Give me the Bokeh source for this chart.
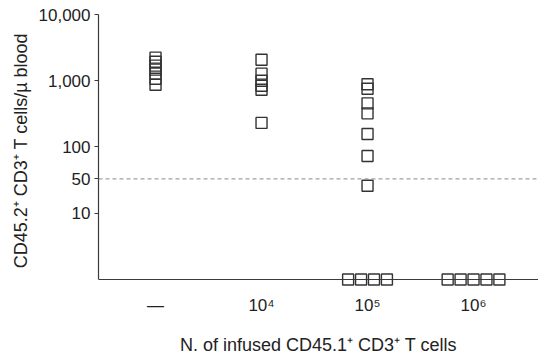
from bokeh.plotting import figure
from bokeh.models import Range1d, FixedTicker, Span, ColumnDataSource
from bokeh.embed import file_html
from bokeh.resources import INLINE

# ---- data ----
categories = ["\u2014", "10\u2074", "10\u2075", "10\u2076"]
group_none = [2230, 1940, 1690, 1470, 1280, 1070, 870]
group_1e4 = [2080, 1280, 1000, 840, 730, 231]
group_1e5 = [885, 757, 456, 322, 157, 73, 26, 0, 0, 0, 0]
group_1e6 = [0, 0, 0, 0, 0]
y_ticks = [10, 100, 1000, 10000]
y_tick_labels = ["10", "100", "1,000", "10,000"]
threshold_label = "50"
threshold_level = 33  # where the dashed line sits on the axis scale in the picture
x_title = "N. of infused CD45.1\u207a CD3\u207a T cells"
y_title = "CD45.2\u207a CD3\u207a T cells/\u00b5 blood"

groups = [group_none, group_1e4, group_1e5, group_1e6]

FONT = "Liberation Sans"
AX = "#3a3a3a"
TXT = "#222222"

floor = 1.0          # zero counts are drawn on the baseline
y_low = 0.784        # a little room under the baseline so markers are not clipped
x_lo, x_hi = 0.462, 4.613
zero_step = 0.122    # horizontal spacing of stacked zero markers (data units)
xs, ys = [], []
for i, vals in enumerate(groups):
    pos = i + 1
    zeros = [v for v in vals if v == 0]
    nz = [v for v in vals if v != 0]
    for v in nz:
        xs.append(pos)
        ys.append(v)
    n = len(zeros)
    for k in range(n):
        xs.append(pos + (k - (n - 1) / 2) * zero_step)
        ys.append(floor)

src = ColumnDataSource(dict(x=xs, y=ys))

p = figure(width=538, height=357, y_axis_type="log",
           x_range=Range1d(x_lo, x_hi), y_range=Range1d(y_low, 10000),
           output_backend="svg", toolbar_location=None,
           min_border_left=98, min_border_right=0, min_border_top=14, min_border_bottom=71)
p.outline_line_color = None
p.grid.visible = False
p.background_fill_color = "white"

# baseline (x-axis line) at the floor
p.add_layout(Span(location=floor, dimension="width", line_color=AX, line_width=1.2))

p.add_layout(Span(location=threshold_level, dimension="width", line_color="#8a8a8a",
                  line_dash="4 3", line_width=1))

p.scatter("x", "y", source=src, marker="square", size=11, fill_color=None,
          line_color="#333333", line_width=1.4)

# y axis
all_ticks = y_ticks + [threshold_level]
all_labels = y_tick_labels + [threshold_label]
ya = p.yaxis[0]
ya.bounds = (floor, 10000)
ya.ticker = FixedTicker(ticks=all_ticks, minor_ticks=[])
ya.major_label_overrides = {t: l for t, l in zip(all_ticks, all_labels)}
ya.axis_line_color = AX
ya.axis_line_width = 1.2
ya.major_tick_line_color = AX
ya.major_tick_out = 4
ya.major_tick_in = 0
ya.minor_tick_line_color = None
ya.major_label_text_font = FONT
ya.major_label_text_font_size = "17px"
ya.major_label_text_color = TXT
ya.major_label_standoff = 4
ya.axis_label = y_title
ya.axis_label_text_font = FONT
ya.axis_label_text_font_size = "18px"
ya.axis_label_text_font_style = "normal"
ya.axis_label_text_color = TXT
ya.axis_label_standoff = 5

# x axis
xa = p.xaxis[0]
xa.ticker = FixedTicker(ticks=[1, 2, 3, 4], minor_ticks=[])
xa.major_label_overrides = {i + 1: c for i, c in enumerate(categories)}
xa.axis_line_color = None
xa.major_tick_line_color = None
xa.major_tick_out = 0
xa.major_tick_in = 0
xa.minor_tick_line_color = None
xa.major_label_text_font = FONT
xa.major_label_text_font_size = "17px"
xa.major_label_text_color = TXT
xa.major_label_standoff = 9
xa.axis_label = x_title
xa.axis_label_text_font = FONT
xa.axis_label_text_font_size = "18px"
xa.axis_label_text_font_style = "normal"
xa.axis_label_text_color = TXT
xa.axis_label_standoff = 17

open("out.html", "w").write(file_html(p, INLINE))
